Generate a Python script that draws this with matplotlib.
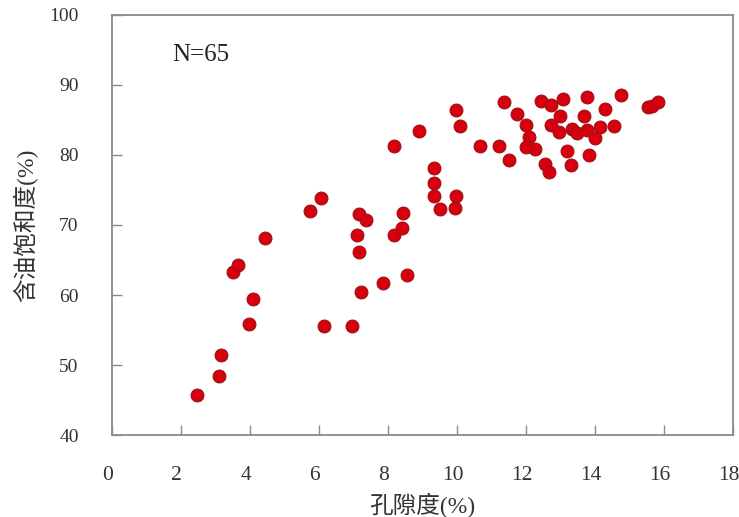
import matplotlib
matplotlib.use("Agg")
import matplotlib.pyplot as plt
import matplotlib.transforms as mtransforms

# porosity (%) and oil saturation (%), N=65
porosity = [2.46, 3.10, 3.16, 3.50, 3.65, 3.97, 4.09, 4.43, 5.74, 6.06,
            6.14, 6.96, 7.10, 7.16, 7.16, 7.36, 7.22, 7.86, 8.17, 8.17,
            8.41, 8.43, 8.55, 8.90, 9.33, 9.33, 9.33, 9.50, 9.97, 9.94,
            9.97, 10.09, 10.67, 11.22, 11.36, 11.51, 11.74, 12.00, 12.08, 12.00,
            12.27, 12.43, 12.71, 12.56, 12.68, 12.72, 12.98, 12.96, 13.08, 13.19,
            13.30, 13.33, 13.47, 13.68, 13.77, 13.78, 13.82, 14.00, 14.14, 14.28,
            14.55, 14.75, 15.53, 15.66, 15.84]
saturation = [45.7, 48.4, 51.4, 63.3, 64.3, 55.9, 59.4, 68.1, 72.0, 73.9,
              55.6, 55.6, 68.6, 66.1, 71.6, 70.7, 60.4, 61.7, 81.3, 68.6,
              69.6, 71.7, 62.9, 83.4, 78.1, 76.0, 74.1, 72.3, 74.1, 72.4,
              86.4, 84.1, 81.3, 81.3, 87.5, 79.3, 85.9, 84.3, 82.5, 81.2,
              80.8, 87.7, 87.2, 78.7, 77.5, 84.3, 85.6, 83.3, 88.0, 80.5,
              78.6, 83.7, 83.2, 85.6, 88.3, 83.6, 80.0, 82.4, 84.0, 86.6,
              84.2, 88.6, 86.8, 87.0, 87.5]

x_ticks = [0, 2, 4, 6, 8, 10, 12, 14, 16, 18]
y_ticks = [40, 50, 60, 70, 80, 90, 100]

fonts = ['Liberation Serif', 'Noto Sans CJK SC']
plt.rcParams['font.family'] = fonts

fig = plt.figure(figsize=(7.39, 5.17), dpi=100)
ax = fig.add_axes([0.1516, 0.1586, 0.8403, 0.8124])

ax.scatter(porosity, saturation, s=85, facecolor='#d8000f',
           edgecolor='#9a1010', linewidth=0.8, zorder=3)

ax.set_xlim(0, 18)
ax.set_ylim(40, 100)
ax.set_xticks(x_ticks)
ax.set_yticks(y_ticks)

for sp in ax.spines.values():
    sp.set_color('#8a8a8a')
    sp.set_linewidth(1.3)

ax.tick_params(axis='x', direction='in', length=7, width=1.0, color='#8a8a8a',
               labelsize=15.5, labelcolor='#333333', pad=22)
ax.tick_params(axis='y', direction='in', length=7, width=1.0, color='#8a8a8a',
               labelsize=14, labelcolor='#333333', pad=24)

# x tick labels in the reference sit a few pixels left of their ticks
shift = mtransforms.ScaledTranslation(-3 / 72, 0, fig.dpi_scale_trans)
for lbl in ax.get_xticklabels():
    lbl.set_transform(lbl.get_transform() + shift)

ax.set_xlabel('孔隙度(%)', fontsize=17, color='#333333', labelpad=6)
ax.set_ylabel('含油饱和度(%)', fontsize=17, color='#333333', labelpad=8)

ax.text(0.097, 0.905, 'N=65', transform=ax.transAxes, fontsize=18,
        color='#222222', va='center', ha='left')

fig.savefig('out.png', dpi=100)
